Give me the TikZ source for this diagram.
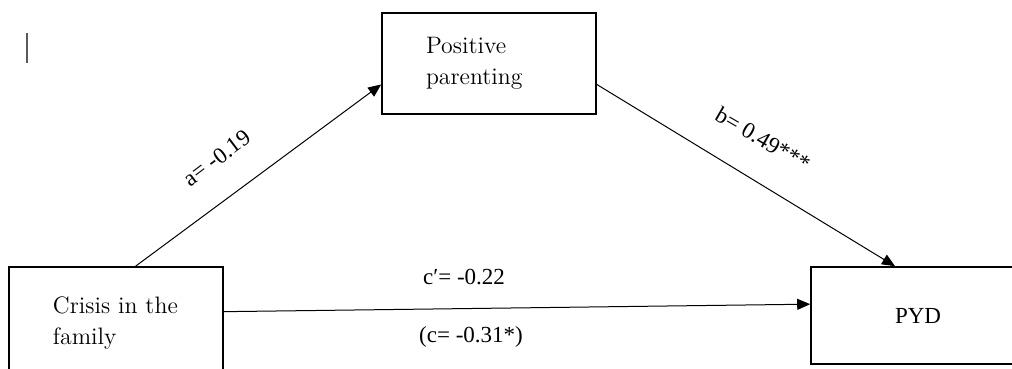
\documentclass[tikz,border=0pt]{standalone}
\usepackage{fontspec}
\newfontfamily\timesfont{Liberation Serif}
\usetikzlibrary{arrows.meta,positioning,calc}

\begin{document}
\begin{tikzpicture}[x=0.5pt,y=-0.5pt,
  medbox/.style={draw,line width=0.8pt,minimum width=107pt,text width=63pt,inner xsep=22pt,
    align=left,font=\fontsize{11.9}{15.5}\selectfont},
  pydbox/.style={draw,line width=0.8pt,minimum width=107pt,minimum height=48.5pt,
    align=center,font=\timesfont\fontsize{11.5}{14}\selectfont},
  coef/.style={inner sep=0pt,font=\timesfont\fontsize{11.5}{14}\selectfont},
  path/.style={line width=0.5pt,-{Triangle[length=6.5pt,width=5.5pt]}}
]
  \path[use as bounding box,fill=white] (0,0) rectangle (1012,369);
  % Mediator (top)
  \node[medbox,minimum height=50.5pt] (pos) at (489,63.5) {Positive\\parenting};
  % Predictor (bottom-left)
  \node[medbox,minimum height=56pt] (crisis) at (116,323) {Crisis in the\\family};
  % Outcome (bottom-right)
  \node[pydbox] (pyd) at (918,315.5) {PYD};
  % Paths
  \draw[path] (crisis.71) -- (pos.191);
  \draw[path] (pos.-11) -- (pyd.115);
  \draw[path] (crisis.6) -- (pyd.174);
  % Coefficients
  \node[coef,rotate=37] (acoef) at (217,158) {a= -0.19};
  \node[coef,rotate=-30] (bcoef) at (763,139) {b= 0.49***};
  \node[coef] (ccoef) at (464,277) {c′= -0.22};
  \node[coef] (ctotal) at (471,337) {(c= -0.31*)};
  % stray mark
  \draw[gray!70!black,line width=0.6pt] (27,33) -- (27,63);
\end{tikzpicture}
\end{document}
